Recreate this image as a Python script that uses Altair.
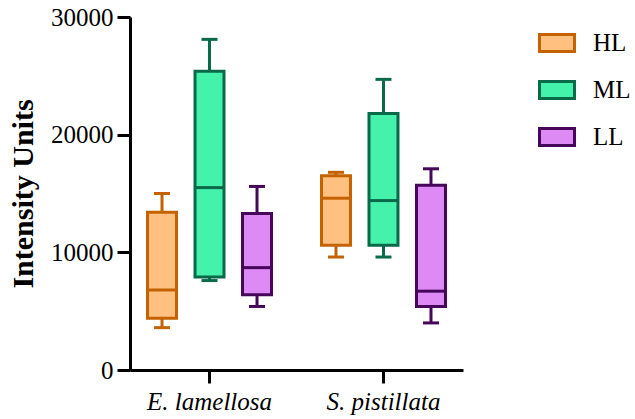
import altair as alt
import pandas as pd

categories = ["E. lamellosa", "S. pistillata"]
groups = ["HL", "ML", "LL"]
fill_colors = ["#FFC080", "#44F2AC", "#DE8AF4"]
stroke_colors = ["#C46200", "#086A48", "#46075A"]

# five-number summaries per category (order of groups: HL, ML, LL)
mins    = [[3600, 7600, 5400], [9600, 9600, 4000]]
q1s     = [[4400, 7900, 6400], [10600, 10600, 5400]]
medians = [[6800, 15500, 8700], [14600, 14400, 6700]]
q3s     = [[13400, 25400, 13300], [16500, 21800, 15700]]
maxs    = [[15000, 28100, 15600], [16800, 24700, 17100]]

rows = []
for ci, c in enumerate(categories):
    for gi, g in enumerate(groups):
        rows.append({"cat": c, "grp": g, "lo": mins[ci][gi], "q1": q1s[ci][gi],
                     "med": medians[ci][gi], "q3": q3s[ci][gi], "hi": maxs[ci][gi]})
df = pd.DataFrame(rows)

FONT = "Liberation Serif"

x = alt.X("cat:N", sort=categories, title=None,
          scale=alt.Scale(paddingInner=0.2, paddingOuter=0.057),
          axis=alt.Axis(labelAngle=0, labelFontStyle="italic", labelPadding=6,
                        labelFontSize=25, labelFont=FONT))
xo = alt.XOffset("grp:N", sort=groups,
                 scale=alt.Scale(domain=groups, paddingInner=0.39, paddingOuter=0.16))
yscale = alt.Scale(domain=[0, 30000], nice=False)
yax = alt.Axis(values=[0, 10000, 20000, 30000], format="d", title="Intensity Units",
               titleFontWeight="bold", titleFontSize=30, titleFont=FONT, titlePadding=12,
               labelPadding=4, labelFontSize=25, labelFont=FONT)
col = alt.Color("grp:N", scale=alt.Scale(domain=groups, range=stroke_colors), legend=None)

leg = alt.Legend(orient="none", legendX=408, legendY=7, title=None,
                 symbolType="M-1,-0.48L1,-0.48L1,0.48L-1,0.48Z", symbolSize=1225,
                 symbolStrokeWidth=3, labelFont=FONT, labelFontSize=25, labelColor="black",
                 labelOffset=17, rowPadding=13)

base = alt.Chart(df)


def Y(field):
    return alt.Y(field, scale=yscale, axis=yax)


boxes = base.mark_bar(strokeWidth=3, opacity=1).encode(
    x=x, xOffset=xo,
    y=Y("q1:Q"),
    y2="q3:Q",
    fill=alt.Fill("grp:N", scale=alt.Scale(domain=groups, range=fill_colors), legend=leg),
    stroke=alt.Stroke("grp:N", scale=alt.Scale(domain=groups, range=stroke_colors), legend=leg),
)

w_low = base.mark_rule(strokeWidth=3, opacity=1).encode(
    x=x, xOffset=xo, y=Y("lo:Q"), y2="q1:Q", color=col)
w_high = base.mark_rule(strokeWidth=3, opacity=1).encode(
    x=x, xOffset=xo, y=Y("q3:Q"), y2="hi:Q", color=col)
med = base.mark_tick(thickness=3, size=29, opacity=1).encode(
    x=x, xOffset=xo, y=Y("med:Q"), color=col)
cap_lo = base.mark_tick(thickness=3, size=16, opacity=1).encode(
    x=x, xOffset=xo, y=Y("lo:Q"), color=col)
cap_hi = base.mark_tick(thickness=3, size=16, opacity=1).encode(
    x=x, xOffset=xo, y=Y("hi:Q"), color=col)

chart = alt.layer(boxes, w_low, w_high, med, cap_lo, cap_hi).properties(
    width=333, height=353,
    autosize=alt.AutoSizeParams(type="none"),
    padding={"left": 130, "top": 17, "right": 172, "bottom": 49},
).configure_view(stroke=None).configure_axis(
    grid=False, domainColor="black", domainWidth=3, tickColor="black", tickWidth=3,
    tickSize=13, labelColor="black", titleColor="black",
).configure_axisY(labelFontSize=25, labelFont=FONT)

chart.save("out.html", embed_options={"renderer": "svg", "actions": False})
